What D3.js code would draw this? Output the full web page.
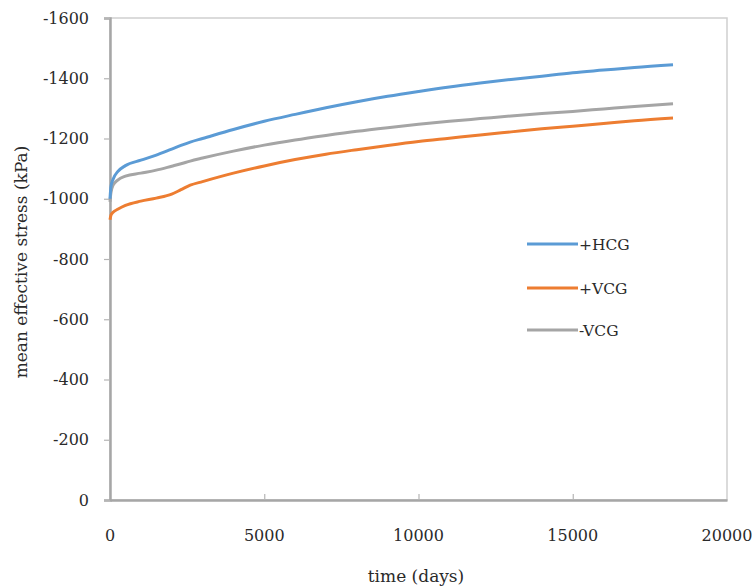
<!DOCTYPE html>
<html>
<head>
<meta charset="utf-8">
<script src="https://cdn.jsdelivr.net/npm/d3@7"></script>
<style>
  html, body { margin: 0; padding: 0; background: #fff; }
  svg { display: block; }
</style>
</head>
<body>
<svg id="chart" width="756" height="588"></svg>
<script>
// ---- data ----
const times = [0, 30, 100, 250, 500, 1000, 1500, 2000, 2300, 2600, 3000, 4000, 5000, 6000, 7000, 8000, 9000, 10000, 11000, 12000, 13000, 14000, 15000, 16000, 17000, 18250];
const hcg   = [-1000, -1040, -1065, -1090, -1110, -1128, -1145, -1165, -1177, -1188, -1200, -1230, -1257, -1280, -1302, -1322, -1340, -1356, -1371, -1384, -1396, -1407, -1418, -1427, -1436, -1445];
const pvcg  = [-930, -945, -955, -965, -978, -992, -1002, -1015, -1030, -1045, -1057, -1085, -1109, -1130, -1148, -1163, -1177, -1190, -1201, -1212, -1222, -1232, -1241, -1250, -1259, -1268];
const nvcg  = [-990, -1020, -1045, -1062, -1075, -1085, -1095, -1108, -1116, -1125, -1135, -1158, -1178, -1195, -1210, -1224, -1236, -1247, -1257, -1266, -1275, -1283, -1290, -1298, -1306, -1315];
const seriesNames = ["+HCG", "+VCG", "-VCG"];
const seriesColors = ["#5b9bd5", "#ed7d31", "#a5a5a5"];
const xTicks = [0, 5000, 10000, 15000, 20000];
const yTicks = [0, -200, -400, -600, -800, -1000, -1200, -1400, -1600];
const xLabel = "time (days)";
const yLabel = "mean effective stress (kPa)";

(function () {
// ---- layout ----
const svg = d3.select("#chart");
const pLeft = 110, pRight = 727, pTop = 18, pBottom = 500;
const x = d3.scaleLinear().domain([0, 20000]).range([pLeft, pRight]);
const y = d3.scaleLinear().domain([0, -1600]).range([pBottom, pTop]);
const font = "'DejaVu Serif', 'Liberation Serif', serif";
const textColor = "#2a2a2a";
const tickFs = 16, titleFs = 17, legendFs = 15.5;

// frame (top & right)
svg.append("rect")
  .attr("x", pLeft).attr("y", pTop)
  .attr("width", pRight - pLeft).attr("height", pBottom - pTop)
  .attr("fill", "none").attr("stroke", "#cfcfcf").attr("stroke-width", 1.5);

// x axis (ticks inward)
const xAxis = d3.axisBottom(x).tickValues(xTicks).tickSize(0).tickFormat("");
const gx = svg.append("g").attr("transform", `translate(0,${pBottom})`).call(xAxis);
gx.select(".domain").attr("stroke", "#a6a6a6").attr("stroke-width", 2.5);
gx.selectAll(".tick line").remove();
gx.selectAll(".tick").filter(d => d > 0 && d < 20000)
  .append("line").attr("y1", 0).attr("y2", -6).attr("stroke", "#b5b5b5").attr("stroke-width", 1.2);
svg.append("g").selectAll("text").data(xTicks).join("text")
  .attr("x", d => x(d)).attr("y", 541)
  .attr("text-anchor", "middle")
  .attr("font-family", font).attr("font-size", tickFs).attr("fill", textColor)
  .text(d => d3.format("d")(d));

// y axis (ticks outward)
const yAxis = d3.axisLeft(y).tickValues(yTicks).tickSize(6).tickFormat("");
const gy = svg.append("g").attr("transform", `translate(${pLeft},0)`).call(yAxis);
gy.select(".domain").attr("stroke", "#a6a6a6").attr("stroke-width", 2.5);
gy.selectAll(".tick line").attr("stroke", "#b5b5b5").attr("stroke-width", 1.2);
svg.append("g").selectAll("text").data(yTicks).join("text")
  .attr("x", 89).attr("y", d => y(d) + 5.5)
  .attr("text-anchor", "end")
  .attr("font-family", font).attr("font-size", tickFs).attr("fill", textColor)
  .text(d => d3.format("d")(d).replace("−", "-"));

// axis titles
svg.append("text")
  .attr("x", 416).attr("y", 582)
  .attr("text-anchor", "middle")
  .attr("font-family", font).attr("font-size", titleFs).attr("fill", textColor)
  .text(xLabel);
svg.append("text")
  .attr("transform", `translate(27,${(pTop + pBottom) / 2 + 3}) rotate(-90)`)
  .attr("text-anchor", "middle")
  .attr("font-family", font).attr("font-size", titleFs).attr("fill", textColor)
  .text(yLabel);

// lines
const allSeries = [hcg, pvcg, nvcg];
const line = d3.line()
  .x((d, i) => x(times[i]))
  .y(d => y(d))
  .curve(d3.curveMonotoneX);
[2, 1, 0].forEach(k => {
  svg.append("path")
    .datum(allSeries[k])
    .attr("d", line)
    .attr("fill", "none")
    .attr("stroke", seriesColors[k])
    .attr("stroke-width", 3)
    .attr("stroke-linejoin", "round");
});

// legend
const legendY = [244, 288, 330];
seriesNames.forEach((name, k) => {
  svg.append("line")
    .attr("x1", 527).attr("x2", 578)
    .attr("y1", legendY[k]).attr("y2", legendY[k])
    .attr("stroke", seriesColors[k]).attr("stroke-width", 3);
  svg.append("text")
    .attr("x", 579).attr("y", legendY[k] + 5.5)
    .attr("font-family", font).attr("font-size", legendFs).attr("fill", textColor)
    .text(name);
});
})();
</script>
</body>
</html>
